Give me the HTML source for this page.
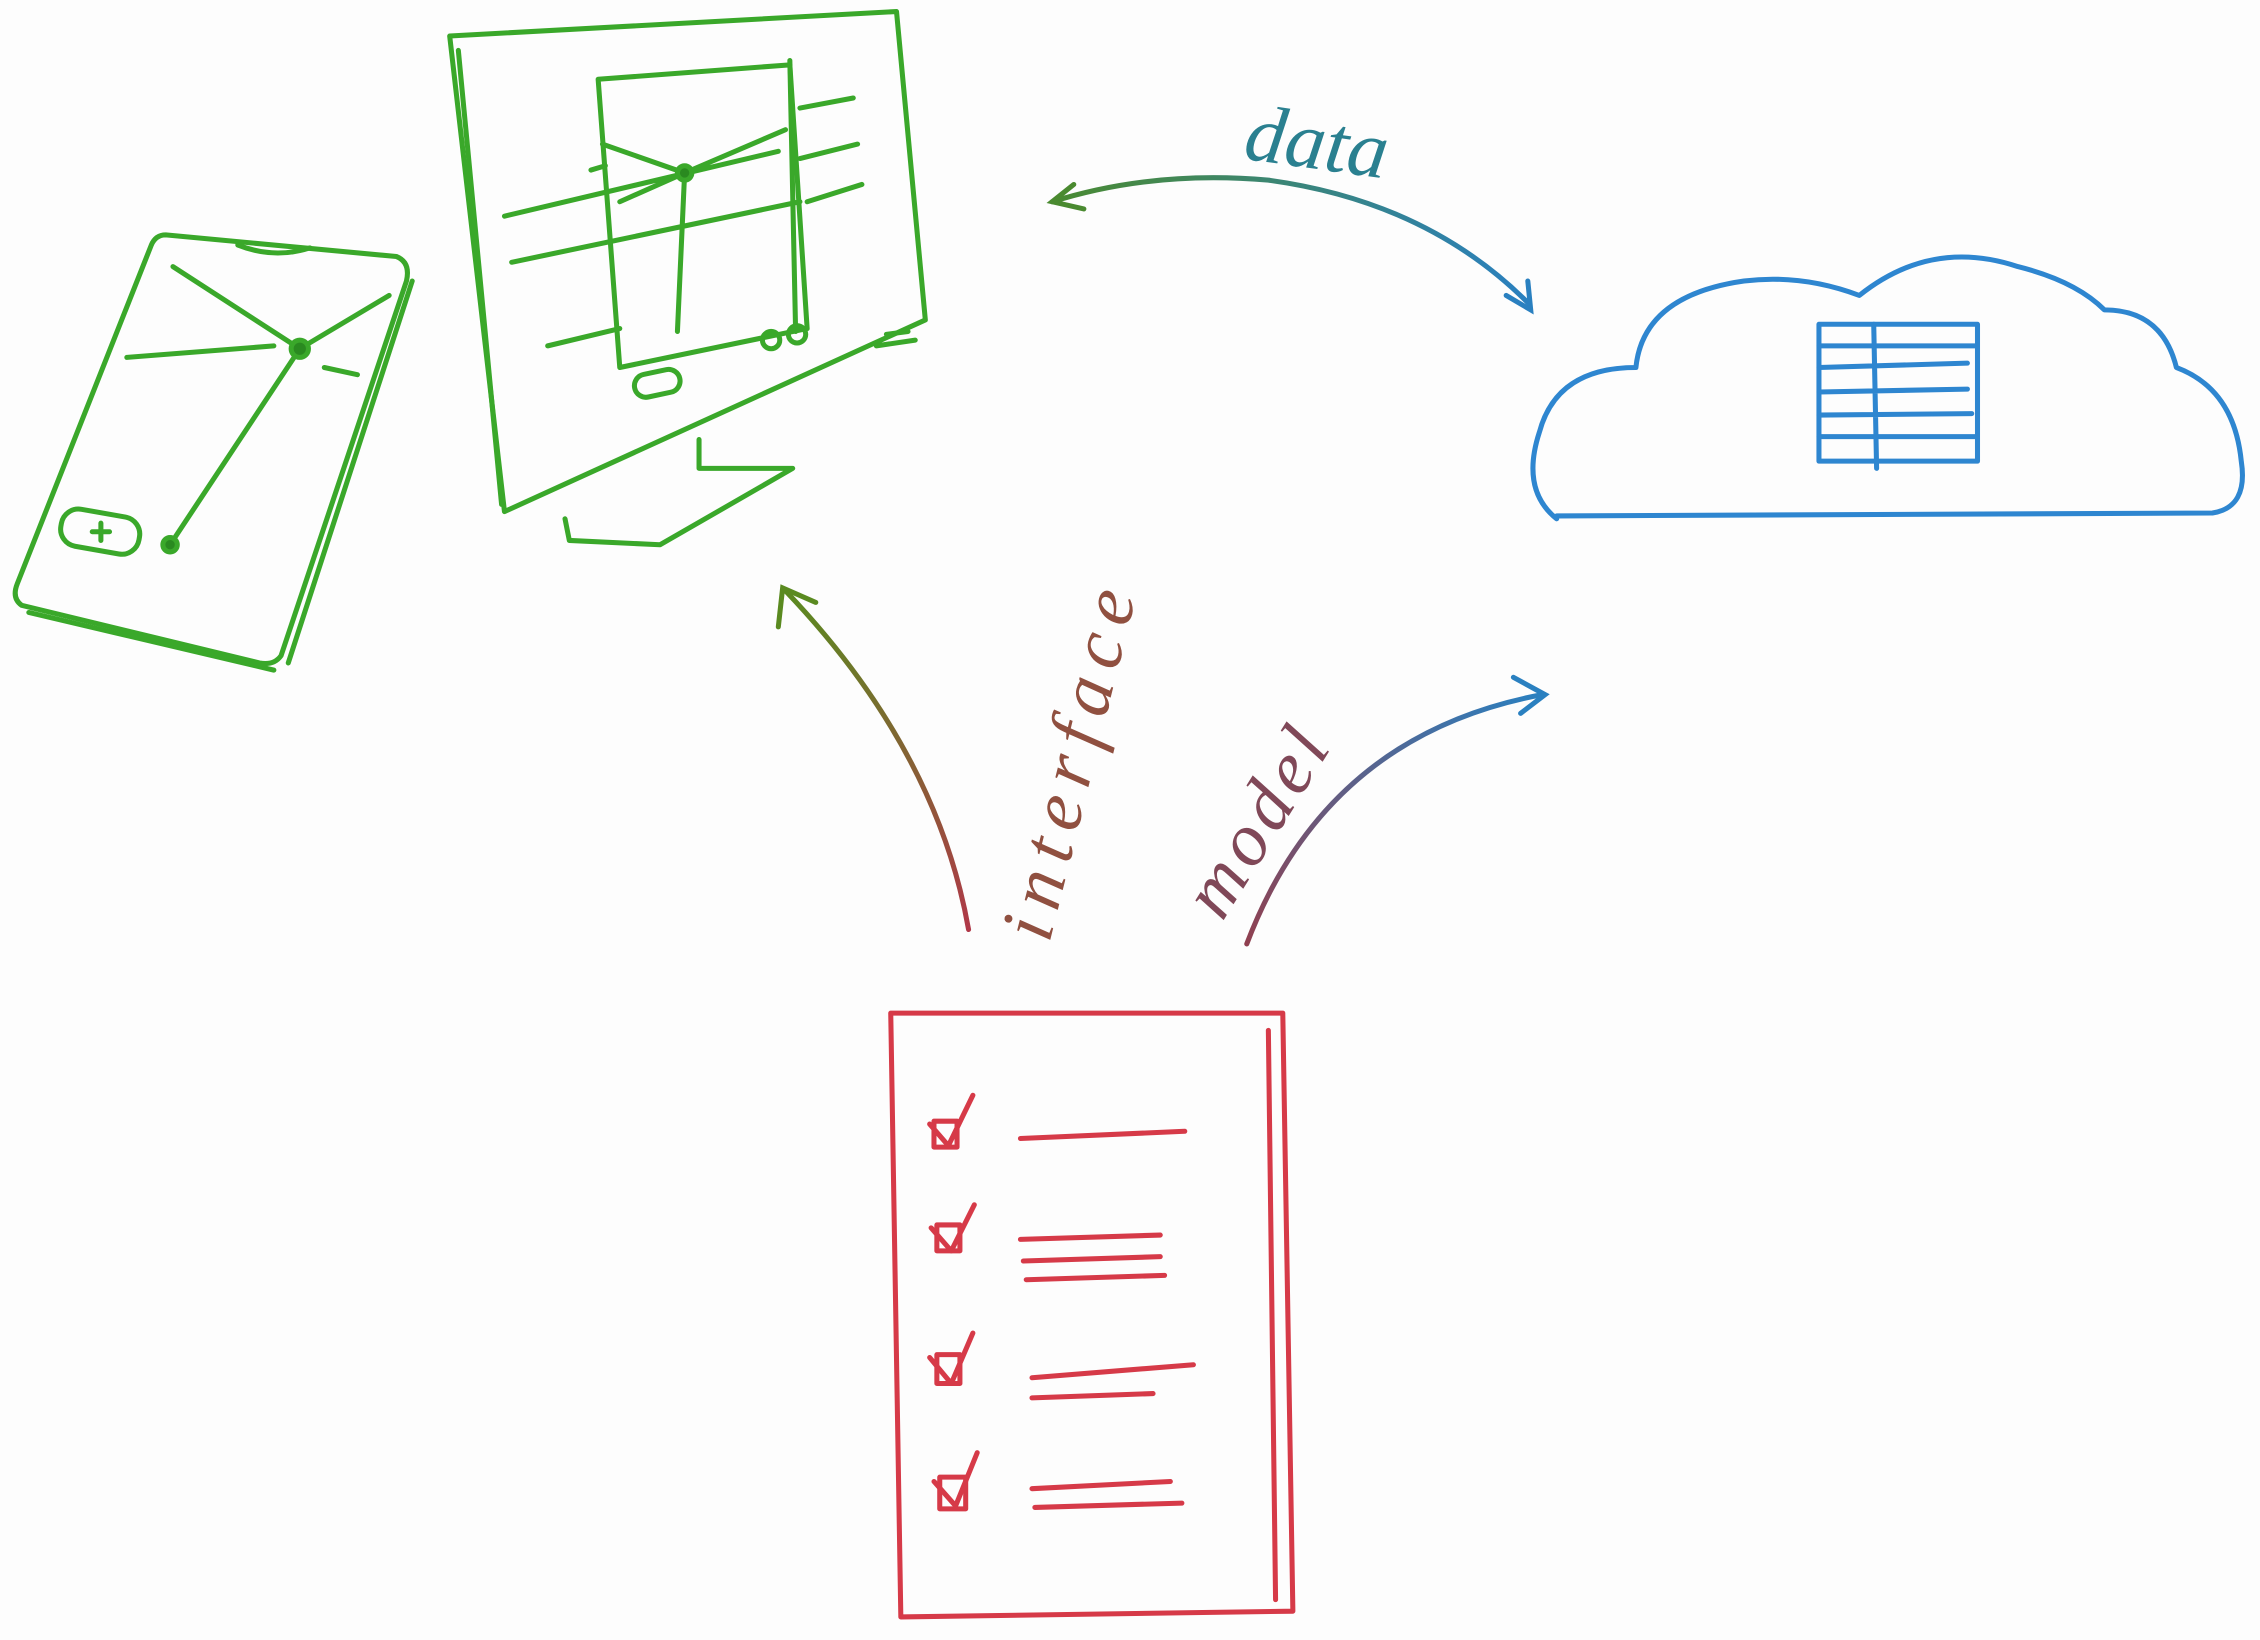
<!DOCTYPE html>
<html><head><meta charset="utf-8"><style>
html,body{margin:0;padding:0;background:#fdfdfd;}
svg{display:block;}
text{font-family:"Liberation Serif",serif;font-style:italic;}
</style></head><body>
<svg width="2260" height="1640" viewBox="0 0 1568 1138" preserveAspectRatio="none" xmlns="http://www.w3.org/2000/svg">
<defs>
<linearGradient id="gd" x1="0" x2="1" y1="0" y2="0"><stop offset="0" stop-color="#4a8a30"/><stop offset="1" stop-color="#2a80c0"/></linearGradient>
<linearGradient id="gi" x1="0" x2="0" y1="1" y2="0"><stop offset="0" stop-color="#b03848"/><stop offset="1" stop-color="#5a8a20"/></linearGradient>
<linearGradient id="gm" x1="0" x2="1" y1="1" y2="0"><stop offset="0" stop-color="#904050"/><stop offset="1" stop-color="#2a80c0"/></linearGradient>
</defs>
<rect width="1568" height="1138" fill="#fdfdfd"/>
<!-- phone -->
<g fill="none" stroke="#3aa82a" stroke-width="3.5" stroke-linecap="round" stroke-linejoin="round">
<path d="M115,163 L275,178 Q285,182 282,195 L195,455 Q190,462 180,460 L15,420 Q8,415 12,405 L105,170 Q108,163 115,163 Z"/>
<path d="M286,195 L200,460 M20,425 L190,465"/>
<path d="M165,170 Q190,180 215,172"/>
<path d="M120,185 L208,242 L270,205 M88,248 L190,240 M208,242 L118,378 M225,255 L248,260"/>
<circle cx="208" cy="242" r="6" fill="#2a8a20"/>
<circle cx="118" cy="378" r="5" fill="#2a8a20"/>
<rect x="42" y="356" width="55" height="26" rx="12" transform="rotate(10 70 369)"/>
<path d="M64,369 L76,369 M70,363 L70,375"/>
</g>
<!-- monitor -->
<g fill="none" stroke="#3aa82a" stroke-width="3.5" stroke-linecap="round" stroke-linejoin="round">
<path d="M312,25 L622,8 L642,222 L350,355 Z"/>
<path d="M318,35 L348,350"/>
<path d="M415,55 L548,45 L560,228 L430,255 Z"/>
<path d="M548,42 L552,230"/>
<path d="M418,100 L475,120 L545,90 M430,140 L475,120 L470,230 M350,150 L540,105 M355,182 L555,140 M380,240 L430,228 M555,75 L592,68 M560,140 L598,128 M555,110 L595,100 M420,115 L410,118"/>
<circle cx="475" cy="120" r="5" fill="#2a8a20"/>
<rect x="440" y="258" width="32" height="16" rx="8" transform="rotate(-12 456 266)"/>
<circle cx="535" cy="236" r="6"/><circle cx="553" cy="232" r="6"/>
<path d="M608,240 L635,236 M615,232 L630,230"/>
<path d="M485,305 L485,325 L550,325 L458,378 L395,375 L392,360"/>
</g>
<!-- cloud -->
<g fill="none" stroke="#2e86d0" stroke-width="3.5" stroke-linecap="round" stroke-linejoin="round">
<path d="M1080,360 Q1055,340 1068,300 Q1080,255 1135,255 Q1140,205 1210,195 Q1250,190 1290,205 Q1340,165 1400,185 Q1440,195 1460,215 Q1500,215 1510,255 Q1550,270 1555,320 Q1560,352 1535,356 L1080,358"/>
<rect x="1262" y="225" width="110" height="95"/>
<path d="M1262,240 L1372,240 M1262,255 L1365,252 M1262,272 L1365,270 M1262,288 L1368,287 M1262,303 L1372,303 M1300,225 L1302,325"/>
</g>
<!-- checklist -->
<g fill="none" stroke="#d63a48" stroke-width="3.5" stroke-linecap="round" stroke-linejoin="round">
<path d="M618,703 L890,703 L897,1118 L625,1122 Z"/>
<path d="M880,715 L885,1110"/>
<path d="M708,790 L822,785"/>
<path d="M708,860 L805,857 M710,875 L805,872 M712,888 L808,885"/>
<path d="M716,956 L828,947 M716,970 L800,967"/>
<path d="M716,1033 L812,1028 M718,1046 L820,1043"/>
<rect x="648" y="778" width="16" height="18"/><path d="M645,780 L658,795 L675,760"/>
<rect x="650" y="850" width="16" height="18"/><path d="M646,852 L660,868 L676,836"/>
<rect x="650" y="940" width="16" height="20"/><path d="M645,942 L660,960 L675,925"/>
<rect x="652" y="1025" width="18" height="22"/><path d="M648,1028 L663,1045 L678,1008"/>
</g>
<!-- arrows -->
<g fill="none" stroke-width="3.5" stroke-linecap="round">
<path d="M730,140 Q800,118 880,125 Q990,140 1060,210" stroke="url(#gd)"/>
<path d="M745,128 L730,140 L752,145" stroke="#4a8a30"/>
<path d="M1045,205 L1062,215 L1060,195" stroke="#2a80c0"/>
<path d="M672,645 Q650,520 545,410" stroke="url(#gi)"/>
<path d="M540,435 L543,408 L566,418" stroke="#5a8a20"/>
<path d="M865,655 Q920,510 1070,482" stroke="url(#gm)"/>
<path d="M1050,470 L1072,482 L1055,495" stroke="#2a80c0"/>
</g>
<text x="862" y="110" font-size="56" fill="#2a8090" transform="rotate(8 862 110)">data</text>
<text x="0" y="0" font-size="52" fill="#905040" transform="translate(728,655) rotate(-76)" letter-spacing="8">interface</text>
<text x="0" y="0" font-size="52" fill="#804858" transform="translate(848,640) rotate(-58)" letter-spacing="4">model</text>
</svg>
</body></html>
